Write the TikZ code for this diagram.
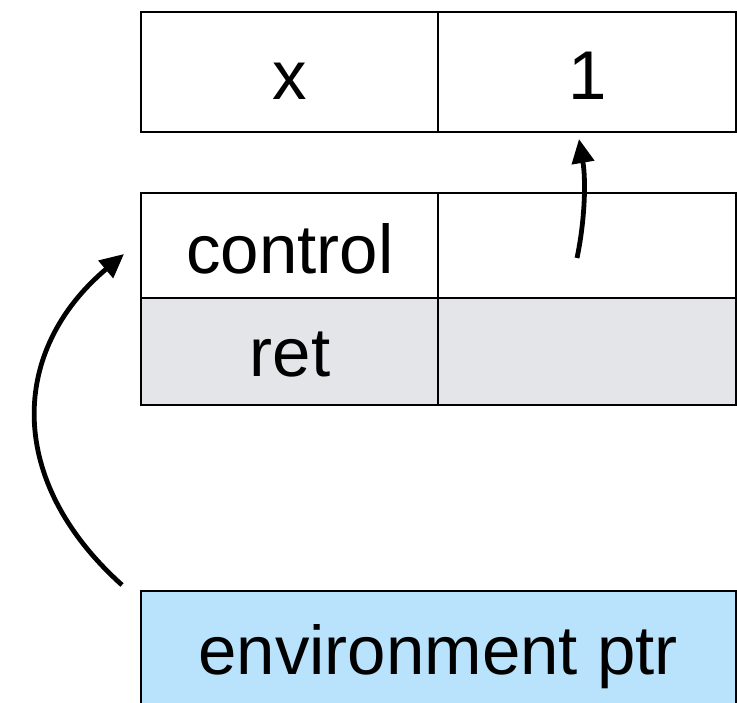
\documentclass[tikz,border=0pt]{standalone}
\usepackage{fontspec}
\setmainfont{Liberation Sans}
\usetikzlibrary{arrows.meta}
\definecolor{retgray}{HTML}{E4E5E9}
\definecolor{envblue}{HTML}{B9E3FC}
\begin{document}
\begin{tikzpicture}[x=1pt,y=-1pt,
  cell/.style={draw=black,line width=2pt},
  lbl/.style={font=\fontsize{69}{69}\selectfont,inner sep=0pt,anchor=base},
  ptr/.style={line width=4.8pt,-{Triangle[length=24pt,width=22pt]}}]
\useasboundingbox (0,0) rectangle (737,703);
\clip (0,0) rectangle (737,703);
% variable binding frame
\draw[cell] (141,12) rectangle (438,132);
\draw[cell] (438,12) rectangle (736,132);
\node[lbl] (xname) at (290,100) {x};
\node[lbl] (xval) at (588,100) {1};
% control / return frame
\draw[cell] (141,193) rectangle (438,298);
\draw[cell] (438,193) rectangle (736,298);
\draw[cell,fill=retgray] (141,298) rectangle (438,405);
\draw[cell,fill=retgray] (438,298) rectangle (736,405);
\node[lbl] (ctl) at (290,274) {control};
\node[lbl] (ret) at (290,377) {ret};
% environment pointer
\draw[cell,fill=envblue] (141,591) rectangle (736,720);
\node[lbl] (env) at (438,674) {environment ptr};
% pointers
\coordinate (ctlfrom) at (577,258);
\coordinate (ctlto) at (579,139);
\coordinate (envfrom) at (122,585);
\coordinate (envto) at (124,254);
\draw[ptr] (ctlfrom) .. controls (585,220) and (586,180) .. (ctlto);
\draw[ptr] (envfrom) .. controls (5,480) and (10,350) .. (envto);
\end{tikzpicture}
\end{document}
